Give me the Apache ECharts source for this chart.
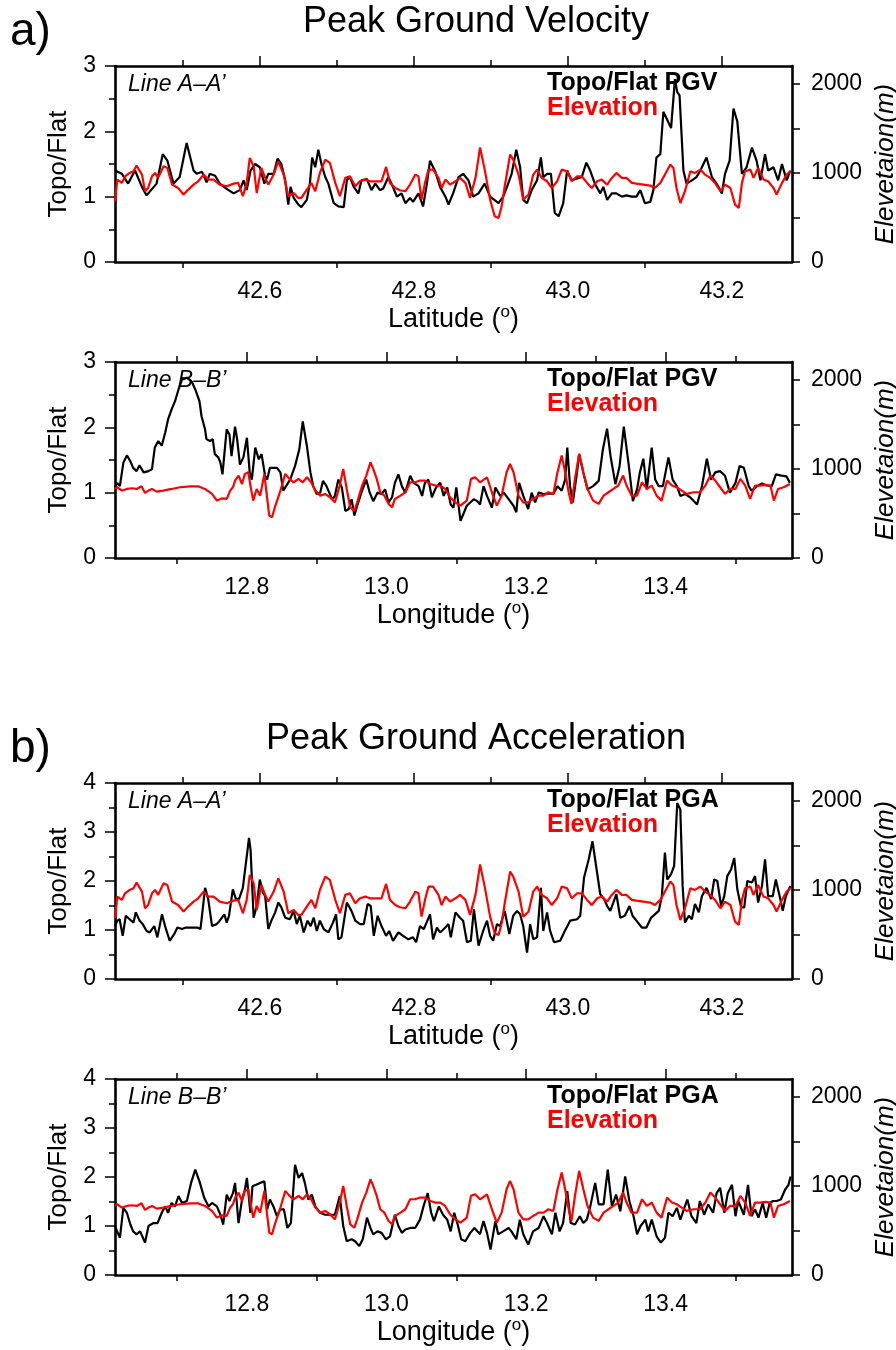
<!DOCTYPE html>
<html><head><meta charset="utf-8">
<script src="https://cdn.jsdelivr.net/npm/echarts@6/dist/echarts.min.js"></script>
<style>html,body{margin:0;padding:0;background:#fff}#c{width:896px;height:1350px}</style>
</head><body><div id="c"></div>
<script>
// ---------- tick values ----------
const latMajor = [42.6, 42.8, 43.0, 43.2];
const latMinor = [42.5, 42.7, 42.9, 43.1];
const lonMajor = [12.8, 13.0, 13.2, 13.4];
const lonMinor = [12.7, 12.9, 13.1, 13.3, 13.5];
const pgvRatioLabels = [0, 1, 2, 3];
const pgvRatioHalf = [0.5, 1.5, 2.5];
const pgaRatioLabels = [0, 1, 2, 3, 4];
const pgaRatioHalf = [0.5, 1.5, 2.5, 3.5];
const elevLabels = [0, 1000, 2000];
const elevTicks = [0, 500, 1000, 1500, 2000];

// ---------- data: [coordinate (deg), value] ----------
const pgvA_ratio = [[42.412,1.40],[42.421,1.35],[42.429,1.20],[42.438,1.40],[42.447,1.15],[42.453,1.02],[42.466,1.20],[42.474,1.65],[42.480,1.55],[42.488,1.20],[42.496,1.30],[42.505,1.82],[42.514,1.40],[42.518,1.35],[42.525,1.38],[42.531,1.22],[42.535,1.35],[42.542,1.32],[42.548,1.20],[42.557,1.12],[42.566,1.05],[42.574,1.10],[42.579,1.25],[42.583,1.10],[42.588,1.40],[42.594,1.50],[42.600,1.45],[42.606,1.20],[42.611,1.35],[42.618,1.35],[42.623,1.58],[42.628,1.50],[42.633,1.25],[42.637,0.88],[42.640,1.15],[42.644,0.98],[42.650,0.88],[42.654,0.84],[42.661,0.95],[42.665,1.20],[42.668,1.60],[42.672,1.45],[42.676,1.72],[42.680,1.50],[42.685,1.30],[42.689,1.20],[42.696,0.90],[42.702,0.85],[42.709,0.84],[42.713,1.25],[42.717,1.30],[42.722,1.15],[42.728,1.05],[42.732,1.25],[42.739,1.27],[42.745,1.10],[42.750,1.20],[42.756,1.10],[42.760,1.12],[42.767,1.30],[42.771,1.20],[42.778,1.00],[42.784,1.05],[42.789,0.90],[42.795,0.98],[42.799,0.92],[42.806,1.05],[42.812,0.85],[42.817,1.20],[42.821,1.55],[42.828,1.38],[42.834,1.15],[42.841,1.00],[42.845,0.88],[42.851,1.05],[42.858,1.30],[42.864,1.35],[42.871,1.25],[42.877,1.00],[42.884,1.05],[42.892,1.20],[42.899,1.00],[42.910,0.90],[42.916,1.00],[42.921,1.15],[42.927,1.35],[42.933,1.72],[42.938,1.45],[42.942,0.95],[42.947,0.90],[42.953,1.10],[42.960,1.25],[42.965,1.60],[42.968,1.30],[42.973,1.35],[42.978,1.35],[42.983,0.75],[42.988,0.70],[42.994,0.90],[42.999,1.40],[43.005,1.25],[43.012,1.28],[43.018,1.30],[43.024,1.52],[43.029,1.40],[43.035,1.20],[43.042,1.05],[43.046,1.15],[43.051,0.95],[43.057,1.05],[43.063,1.05],[43.070,1.00],[43.076,1.02],[43.083,1.00],[43.089,1.00],[43.094,1.10],[43.100,0.90],[43.107,0.92],[43.111,1.10],[43.115,1.60],[43.120,1.65],[43.124,2.30],[43.128,2.20],[43.134,2.05],[43.139,2.80],[43.142,2.60],[43.145,2.55],[43.150,1.40],[43.154,1.20],[43.161,1.25],[43.167,1.30],[43.172,1.40],[43.180,1.60],[43.187,1.30],[43.193,1.20],[43.200,1.05],[43.204,1.35],[43.210,1.55],[43.215,2.35],[43.220,2.15],[43.226,1.35],[43.232,1.45],[43.239,1.75],[43.245,1.55],[43.250,1.25],[43.256,1.65],[43.260,1.40],[43.267,1.45],[43.273,1.25],[43.278,1.50],[43.284,1.25],[43.289,1.40]];

const elevA = [[42.412,682],[42.415,925],[42.421,888],[42.425,962],[42.431,1000],[42.436,1019],[42.440,1082],[42.447,981],[42.451,794],[42.455,831],[42.460,962],[42.464,1000],[42.468,944],[42.475,1075],[42.480,1056],[42.486,869],[42.494,831],[42.501,757],[42.507,813],[42.514,869],[42.520,906],[42.527,981],[42.533,925],[42.540,925],[42.548,869],[42.557,850],[42.566,880],[42.572,888],[42.578,738],[42.583,888],[42.587,1168],[42.592,1075],[42.596,775],[42.602,1056],[42.607,944],[42.611,869],[42.618,981],[42.624,1131],[42.631,981],[42.637,738],[42.644,775],[42.650,719],[42.654,719],[42.661,813],[42.667,888],[42.672,794],[42.678,1000],[42.685,1150],[42.691,1112],[42.698,888],[42.704,738],[42.711,944],[42.717,962],[42.724,850],[42.730,906],[42.737,925],[42.743,906],[42.752,906],[42.758,906],[42.764,1067],[42.769,888],[42.776,831],[42.782,805],[42.789,794],[42.795,869],[42.802,981],[42.806,962],[42.810,700],[42.815,906],[42.819,1037],[42.825,1037],[42.832,944],[42.836,831],[42.841,925],[42.847,869],[42.854,906],[42.860,944],[42.867,888],[42.873,719],[42.880,944],[42.886,1285],[42.892,1037],[42.899,700],[42.905,513],[42.910,494],[42.914,625],[42.918,850],[42.925,1206],[42.929,1150],[42.936,981],[42.942,700],[42.949,757],[42.955,981],[42.960,1037],[42.966,944],[42.973,906],[42.979,831],[42.986,906],[42.992,1037],[42.999,1019],[43.005,906],[43.012,962],[43.018,962],[43.025,888],[43.031,831],[43.038,906],[43.044,925],[43.051,869],[43.057,944],[43.063,1000],[43.070,944],[43.076,944],[43.083,888],[43.089,880],[43.098,869],[43.107,858],[43.113,831],[43.120,888],[43.126,981],[43.133,1094],[43.137,1056],[43.141,831],[43.146,662],[43.152,794],[43.159,1019],[43.165,1000],[43.172,1037],[43.178,981],[43.185,944],[43.191,888],[43.198,794],[43.204,869],[43.211,831],[43.217,644],[43.222,607],[43.226,888],[43.230,1019],[43.237,1037],[43.241,944],[43.247,1056],[43.254,925],[43.260,906],[43.267,831],[43.271,757],[43.278,888],[43.284,981],[43.289,1019]];

const pgvB_ratio = [[12.611,1.08],[12.614,1.15],[12.618,1.10],[12.623,1.46],[12.628,1.57],[12.633,1.48],[12.637,1.38],[12.642,1.33],[12.646,1.42],[12.652,1.31],[12.659,1.33],[12.664,1.36],[12.668,1.69],[12.673,1.79],[12.678,1.72],[12.683,1.92],[12.687,2.12],[12.692,2.27],[12.697,2.40],[12.702,2.58],[12.707,2.73],[12.714,2.76],[12.721,2.70],[12.726,2.58],[12.732,2.40],[12.735,2.17],[12.740,1.97],[12.742,1.82],[12.747,1.79],[12.751,1.82],[12.754,1.59],[12.759,1.54],[12.762,1.46],[12.765,1.28],[12.771,1.97],[12.775,1.89],[12.778,1.56],[12.783,2.01],[12.786,1.82],[12.790,1.43],[12.795,1.54],[12.800,1.84],[12.804,1.31],[12.807,1.20],[12.812,1.69],[12.817,1.51],[12.821,1.59],[12.826,1.26],[12.829,1.20],[12.833,1.38],[12.843,1.38],[12.848,1.31],[12.852,1.03],[12.862,1.20],[12.869,1.41],[12.875,1.66],[12.880,2.09],[12.886,1.71],[12.891,1.31],[12.895,1.10],[12.900,0.98],[12.905,1.00],[12.909,1.18],[12.914,1.10],[12.922,0.90],[12.926,0.95],[12.931,1.20],[12.936,1.08],[12.941,0.72],[12.946,0.75],[12.950,0.90],[12.954,0.65],[12.958,0.80],[12.965,1.03],[12.971,1.20],[12.976,1.00],[12.981,0.87],[12.987,1.00],[12.993,0.98],[12.998,1.05],[13.003,0.85],[13.008,0.93],[13.012,1.15],[13.017,1.28],[13.022,1.10],[13.027,1.00],[13.034,1.26],[13.039,1.15],[13.046,1.10],[13.051,0.95],[13.055,1.15],[13.060,1.20],[13.065,0.93],[13.071,1.08],[13.077,1.15],[13.082,0.95],[13.087,1.08],[13.092,0.82],[13.096,0.77],[13.100,1.08],[13.106,0.57],[13.110,0.67],[13.115,0.80],[13.120,0.85],[13.125,0.90],[13.130,0.87],[13.134,0.82],[13.139,1.10],[13.144,0.95],[13.151,0.77],[13.156,1.08],[13.163,0.95],[13.168,1.00],[13.175,0.90],[13.182,0.80],[13.186,0.70],[13.190,1.15],[13.196,0.95],[13.203,0.75],[13.208,1.00],[13.213,0.85],[13.218,1.00],[13.225,0.98],[13.232,0.99],[13.239,0.98],[13.245,1.10],[13.251,1.03],[13.256,1.20],[13.259,1.69],[13.263,1.10],[13.267,0.85],[13.273,1.31],[13.276,1.59],[13.282,1.31],[13.288,1.05],[13.296,1.10],[13.304,1.18],[13.310,1.66],[13.316,1.98],[13.321,1.56],[13.328,1.13],[13.334,1.41],[13.340,2.01],[13.347,1.43],[13.353,0.87],[13.359,1.05],[13.363,1.31],[13.368,1.52],[13.373,1.05],[13.380,1.69],[13.385,1.20],[13.390,1.10],[13.396,1.10],[13.404,1.54],[13.410,1.20],[13.416,1.10],[13.421,0.95],[13.428,0.98],[13.435,0.93],[13.445,0.82],[13.452,1.10],[13.459,1.52],[13.465,1.20],[13.471,1.31],[13.478,1.33],[13.485,1.26],[13.492,1.00],[13.500,1.15],[13.506,1.41],[13.512,1.38],[13.519,1.10],[13.523,1.03],[13.531,1.10],[13.538,1.14],[13.545,1.11],[13.552,1.10],[13.558,1.28],[13.566,1.26],[13.573,1.25],[13.578,1.15]];

const elevB = [[12.611,775],[12.614,794],[12.621,757],[12.628,775],[12.635,783],[12.642,775],[12.649,805],[12.654,730],[12.659,757],[12.664,775],[12.671,745],[12.680,757],[12.692,775],[12.704,794],[12.719,805],[12.730,805],[12.740,775],[12.750,719],[12.757,644],[12.762,663],[12.766,670],[12.771,663],[12.776,757],[12.780,794],[12.783,869],[12.788,925],[12.793,831],[12.797,944],[12.802,962],[12.805,813],[12.809,644],[12.814,775],[12.819,700],[12.825,944],[12.828,738],[12.832,476],[12.836,457],[12.840,569],[12.848,757],[12.855,944],[12.861,888],[12.867,850],[12.874,888],[12.880,850],[12.886,906],[12.892,850],[12.898,757],[12.905,700],[12.912,719],[12.919,682],[12.926,625],[12.933,813],[12.938,1000],[12.943,775],[12.948,569],[12.954,532],[12.958,625],[12.965,813],[12.971,925],[12.977,1075],[12.981,1000],[12.986,888],[12.991,738],[12.997,700],[13.003,607],[13.008,569],[13.012,663],[13.020,700],[13.027,738],[13.034,850],[13.041,850],[13.048,869],[13.055,869],[13.063,831],[13.070,813],[13.077,813],[13.084,775],[13.091,682],[13.098,625],[13.106,588],[13.115,644],[13.121,888],[13.127,906],[13.134,850],[13.144,906],[13.151,738],[13.158,588],[13.165,700],[13.172,962],[13.177,1056],[13.182,962],[13.189,700],[13.196,625],[13.203,625],[13.210,663],[13.218,700],[13.225,700],[13.232,738],[13.239,719],[13.245,962],[13.251,1150],[13.256,962],[13.261,738],[13.265,607],[13.270,888],[13.276,1169],[13.282,962],[13.288,775],[13.296,644],[13.304,607],[13.311,700],[13.318,738],[13.325,775],[13.332,813],[13.339,925],[13.344,813],[13.351,700],[13.359,700],[13.366,850],[13.373,775],[13.380,813],[13.387,700],[13.394,644],[13.402,869],[13.409,813],[13.416,794],[13.423,757],[13.430,719],[13.440,738],[13.449,738],[13.457,813],[13.464,925],[13.471,869],[13.478,794],[13.485,719],[13.492,775],[13.500,775],[13.507,888],[13.514,813],[13.521,663],[13.528,813],[13.535,813],[13.543,820],[13.550,813],[13.555,644],[13.561,775],[13.569,794],[13.578,831]];

const pgaA_ratio = [[42.412,1.08],[42.415,1.19],[42.418,1.22],[42.422,0.88],[42.426,1.29],[42.431,1.22],[42.436,1.15],[42.439,1.36],[42.444,1.19],[42.448,1.12],[42.453,0.98],[42.457,0.95],[42.463,1.08],[42.467,0.85],[42.473,1.32],[42.477,1.08],[42.483,0.78],[42.489,0.92],[42.493,1.05],[42.499,1.02],[42.504,1.05],[42.512,1.05],[42.519,1.05],[42.523,1.02],[42.529,1.86],[42.533,1.63],[42.538,1.08],[42.544,1.12],[42.548,1.19],[42.554,1.32],[42.557,1.15],[42.560,1.29],[42.565,1.83],[42.569,1.63],[42.573,1.63],[42.578,1.86],[42.582,2.37],[42.586,2.88],[42.588,2.64],[42.592,1.25],[42.596,1.49],[42.600,2.03],[42.604,1.76],[42.607,1.69],[42.611,1.02],[42.615,1.19],[42.620,1.36],[42.624,1.56],[42.628,1.46],[42.633,1.25],[42.639,1.22],[42.644,1.39],[42.648,1.12],[42.652,1.29],[42.657,0.95],[42.662,1.19],[42.666,1.08],[42.670,1.25],[42.674,0.98],[42.678,1.19],[42.683,1.02],[42.689,0.95],[42.695,1.15],[42.699,1.32],[42.702,0.81],[42.706,0.85],[42.713,1.56],[42.719,1.39],[42.724,1.19],[42.730,1.12],[42.735,1.12],[42.740,1.53],[42.744,1.49],[42.748,0.88],[42.753,1.29],[42.758,1.08],[42.764,0.88],[42.768,0.98],[42.773,0.78],[42.780,0.95],[42.786,0.88],[42.793,0.81],[42.799,0.85],[42.803,0.75],[42.808,1.08],[42.813,1.02],[42.821,1.32],[42.825,0.81],[42.830,1.05],[42.834,0.95],[42.839,1.02],[42.845,1.12],[42.848,0.85],[42.854,1.36],[42.860,1.25],[42.864,1.19],[42.869,0.75],[42.874,0.78],[42.878,1.42],[42.884,0.68],[42.890,0.98],[42.895,1.19],[42.899,0.88],[42.903,0.78],[42.908,1.12],[42.912,1.08],[42.918,1.39],[42.924,0.92],[42.929,1.29],[42.934,1.39],[42.938,1.32],[42.942,1.08],[42.947,0.54],[42.951,1.12],[42.955,0.81],[42.960,0.85],[42.965,1.86],[42.968,0.98],[42.973,1.36],[42.977,0.98],[42.982,0.75],[42.990,0.78],[42.996,0.98],[43.003,1.19],[43.012,1.22],[43.016,1.29],[43.021,2.07],[43.027,2.44],[43.032,2.81],[43.037,2.27],[43.042,1.73],[43.047,1.63],[43.051,1.49],[43.055,1.39],[43.059,1.56],[43.063,1.73],[43.068,1.25],[43.074,1.29],[43.080,1.49],[43.084,1.29],[43.089,1.19],[43.096,1.05],[43.102,1.05],[43.108,1.25],[43.113,1.32],[43.118,1.39],[43.122,1.69],[43.126,2.58],[43.129,2.03],[43.134,2.14],[43.138,2.31],[43.142,3.59],[43.146,3.46],[43.149,1.90],[43.152,1.15],[43.157,1.29],[43.161,1.22],[43.165,1.53],[43.170,1.36],[43.174,1.69],[43.180,1.86],[43.186,1.63],[43.190,2.03],[43.194,2.00],[43.199,1.49],[43.203,1.69],[43.207,2.10],[43.212,2.24],[43.216,2.47],[43.220,1.83],[43.225,1.46],[43.229,1.46],[43.233,2.00],[43.239,1.97],[43.243,2.10],[43.247,1.56],[43.252,1.90],[43.256,2.44],[43.260,1.69],[43.266,1.69],[43.270,2.03],[43.275,1.69],[43.279,1.39],[43.283,1.69],[43.289,1.90]];

const pgaB_ratio = [[12.611,1.00],[12.614,0.89],[12.618,0.76],[12.623,1.37],[12.628,1.27],[12.633,1.03],[12.637,0.89],[12.642,0.83],[12.647,0.89],[12.651,0.76],[12.654,0.66],[12.659,1.00],[12.666,1.06],[12.672,1.06],[12.678,1.27],[12.683,1.40],[12.687,1.27],[12.692,1.47],[12.697,1.40],[12.702,1.61],[12.707,1.47],[12.714,1.51],[12.720,1.88],[12.726,2.15],[12.732,1.91],[12.739,1.57],[12.745,1.40],[12.750,1.47],[12.757,1.40],[12.762,1.23],[12.766,1.03],[12.771,1.64],[12.775,1.51],[12.780,1.67],[12.783,1.88],[12.788,1.06],[12.793,1.54],[12.797,1.74],[12.800,1.98],[12.805,1.27],[12.808,1.81],[12.813,1.84],[12.819,1.88],[12.825,1.91],[12.829,1.34],[12.833,1.54],[12.838,1.40],[12.843,1.20],[12.848,1.34],[12.853,1.34],[12.858,0.96],[12.863,1.06],[12.869,2.25],[12.874,1.98],[12.879,2.08],[12.883,1.88],[12.888,1.54],[12.893,1.64],[12.898,1.40],[12.905,1.27],[12.912,1.23],[12.919,1.23],[12.926,1.23],[12.933,1.61],[12.938,1.00],[12.943,0.69],[12.950,0.73],[12.955,0.69],[12.961,0.59],[12.966,0.73],[12.972,1.17],[12.977,0.96],[12.981,0.83],[12.987,0.89],[12.993,0.86],[12.999,0.73],[13.005,0.79],[13.012,1.23],[13.017,1.00],[13.022,0.86],[13.027,0.93],[13.034,0.96],[13.041,0.96],[13.048,1.13],[13.053,1.40],[13.059,1.67],[13.064,1.27],[13.068,1.10],[13.075,1.40],[13.081,1.23],[13.087,1.13],[13.092,0.89],[13.097,1.27],[13.102,1.03],[13.107,0.73],[13.113,0.69],[13.120,0.86],[13.126,0.96],[13.134,0.83],[13.139,1.10],[13.144,0.86],[13.149,0.52],[13.156,1.10],[13.160,0.83],[13.167,0.89],[13.175,0.96],[13.179,0.89],[13.186,0.73],[13.191,1.13],[13.196,0.83],[13.203,0.62],[13.210,0.89],[13.218,0.96],[13.225,1.20],[13.230,1.06],[13.237,0.83],[13.242,1.27],[13.248,0.89],[13.253,1.06],[13.259,1.71],[13.264,1.06],[13.270,1.03],[13.277,1.20],[13.282,1.06],[13.287,1.13],[13.292,1.40],[13.299,1.88],[13.304,1.44],[13.311,1.44],[13.317,2.15],[13.323,1.40],[13.329,1.64],[13.335,1.30],[13.342,2.01],[13.348,1.51],[13.354,1.20],[13.359,0.83],[13.364,1.00],[13.371,1.13],[13.375,0.89],[13.380,1.13],[13.387,0.79],[13.393,0.66],[13.399,0.76],[13.404,1.27],[13.410,1.20],[13.416,1.37],[13.421,1.13],[13.426,1.34],[13.431,1.54],[13.437,1.20],[13.444,1.06],[13.449,1.51],[13.455,1.23],[13.461,1.44],[13.468,1.27],[13.473,1.67],[13.478,1.78],[13.484,1.27],[13.489,1.67],[13.495,1.84],[13.500,1.20],[13.504,1.51],[13.512,1.23],[13.518,1.84],[13.523,1.20],[13.528,1.34],[13.533,1.17],[13.539,1.47],[13.544,1.17],[13.549,1.47],[13.554,1.51],[13.559,1.51],[13.565,1.54],[13.571,1.74],[13.576,1.84],[13.579,2.01]];

// ---------- texts ----------
const sectionLabels = ['a)', 'b)'];
const sectionTitles = ['Peak Ground Velocity', 'Peak Ground Acceleration'];
const lineLabels = ['Line A–A’', 'Line B–B’'];
const ratioLegends = ['Topo/Flat PGV', 'Topo/Flat PGA'];
const elevLegend = 'Elevation';
const leftAxisName = 'Topo/Flat';
const rightAxisName = 'Elevetaion(m)';

// ---------- layout ----------
const FONT = '"Liberation Sans", Arial, Helvetica, sans-serif';
const GRID_LEFT = 115, GRID_W = 677, GRID_H = 196;
const panels = [
  {top: 66,   xMin: 42.412, xMax: 43.291, major: latMajor, minor: latMinor, xName: 'Latitude',  yMax: 3, yLab: pgvRatioLabels, yHalf: pgvRatioHalf, ratio: pgvA_ratio, elev: elevA, line: lineLabels[0], legend: ratioLegends[0]},
  {top: 362,  xMin: 12.611, xMax: 13.581, major: lonMajor, minor: lonMinor, xName: 'Longitude', yMax: 3, yLab: pgvRatioLabels, yHalf: pgvRatioHalf, ratio: pgvB_ratio, elev: elevB, line: lineLabels[1], legend: ratioLegends[0]},
  {top: 783,  xMin: 42.412, xMax: 43.291, major: latMajor, minor: latMinor, xName: 'Latitude',  yMax: 4, yLab: pgaRatioLabels, yHalf: pgaRatioHalf, ratio: pgaA_ratio, elev: elevA, line: lineLabels[0], legend: ratioLegends[1]},
  {top: 1079, xMin: 12.611, xMax: 13.581, major: lonMajor, minor: lonMinor, xName: 'Longitude', yMax: 4, yLab: pgaRatioLabels, yHalf: pgaRatioHalf, ratio: pgaB_ratio, elev: elevB, line: lineLabels[1], legend: ratioLegends[1]}
];

const frame = {color: '#000', width: 2.6};
const tickStyle = {color: '#000', width: 1.5};
const labelStyle = {fontSize: 23, color: '#000', fontFamily: FONT};

const grids = [], xAxes = [], yAxes = [], series = [], graphics = [];
panels.forEach((p, i) => {
  grids.push({left: GRID_LEFT, top: p.top, width: GRID_W, height: GRID_H, containLabel: false, outerBoundsMode: 'none'});
  const xb = {type: 'value', gridIndex: i, min: p.xMin, max: p.xMax, splitLine: {show: false}, minorTick: {show: false}};
  xAxes.push(Object.assign({}, xb, {
    position: 'bottom',
    axisLine: {show: true, onZero: false, lineStyle: frame},
    axisTick: {show: true, customValues: p.minor, length: 6, lineStyle: tickStyle},
    axisLabel: Object.assign({show: true, customValues: p.major, margin: 18, formatter: v => v.toFixed(1)}, labelStyle),
    name: '{t|' + p.xName + ' (}{s|o}{t|)}',
    nameLocation: 'middle', nameGap: 41,
    nameTextStyle: {rich: {
      t: {fontSize: 27, fontFamily: FONT, color: '#000', lineHeight: 31},
      s: {fontSize: 17, fontFamily: FONT, color: '#000', verticalAlign: 'top', lineHeight: 18}
    }}
  }));
  xAxes.push(Object.assign({}, xb, {
    position: 'top',
    axisLine: {show: true, onZero: false, lineStyle: frame},
    axisTick: {show: true, customValues: p.major, length: 10, lineStyle: tickStyle},
    axisLabel: {show: false}
  }));
  xAxes.push(Object.assign({}, xb, {
    position: 'top',
    axisLine: {show: false, onZero: false},
    axisTick: {show: true, customValues: p.minor, length: 6, lineStyle: tickStyle},
    axisLabel: {show: false}
  }));

  const yb = {type: 'value', gridIndex: i, splitLine: {show: false}};
  yAxes.push(Object.assign({}, yb, {
    position: 'left', min: 0, max: p.yMax,
    axisLine: {show: true, onZero: false, lineStyle: frame},
    axisTick: {show: true, customValues: p.yLab, length: 10, lineStyle: tickStyle},
    axisLabel: Object.assign({show: true, customValues: p.yLab, margin: 19, formatter: v => String(v)}, labelStyle),
    name: leftAxisName, nameLocation: 'middle', nameGap: 43,
    nameTextStyle: {fontSize: 26, fontFamily: FONT, color: '#000'}
  }));
  yAxes.push(Object.assign({}, yb, {
    position: 'left', min: 0, max: p.yMax,
    axisLine: {show: false, onZero: false},
    axisTick: {show: true, customValues: p.yHalf, length: 6, lineStyle: tickStyle},
    axisLabel: {show: false}
  }));
  yAxes.push(Object.assign({}, yb, {
    position: 'right', min: 0, max: 2200,
    axisLine: {show: true, onZero: false, lineStyle: frame},
    axisTick: {show: true, customValues: elevTicks, length: 8, lineStyle: tickStyle},
    axisLabel: Object.assign({show: true, customValues: elevLabels, margin: 19, formatter: v => String(v)}, labelStyle),
    name: rightAxisName, nameLocation: 'middle', nameGap: 72,
    nameTextStyle: {fontSize: 26, fontFamily: FONT, color: '#000', fontStyle: 'italic'}
  }));

  series.push({type: 'line', xAxisIndex: 3 * i, yAxisIndex: 3 * i, data: p.ratio, symbol: 'none',
    lineStyle: {color: '#000', width: 2.2}, z: 3, silent: true});
  series.push({type: 'line', xAxisIndex: 3 * i, yAxisIndex: 3 * i + 2, data: p.elev, symbol: 'none',
    lineStyle: {color: '#ff0000', width: 2.2}, z: 4, silent: true});

  graphics.push({type: 'text', x: 128, y: p.top + 19, z: 10, style: {text: p.line, fill: '#000',
    font: 'italic 23px ' + FONT, align: 'left', verticalAlign: 'middle'}});
  graphics.push({type: 'text', x: 547, y: p.top + 17, z: 10, style: {text: p.legend, fill: '#000',
    font: 'bold 25px ' + FONT, align: 'left', verticalAlign: 'middle'}});
  graphics.push({type: 'text', x: 547, y: p.top + 42, z: 10, style: {text: elevLegend, fill: '#ff0000',
    font: 'bold 25px ' + FONT, align: 'left', verticalAlign: 'middle'}});
});

[0, 1].forEach(k => {
  const top = panels[k * 2].top;
  graphics.push({type: 'text', x: 10, y: top - 34, style: {text: sectionLabels[k], fill: '#000',
    font: '46px ' + FONT, align: 'left', verticalAlign: 'middle'}});
  graphics.push({type: 'text', x: 476, y: top - 44, style: {text: sectionTitles[k], fill: '#000',
    font: '36px ' + FONT, align: 'center', verticalAlign: 'middle'}});
});

const chart = echarts.init(document.getElementById('c'), null, {renderer: 'canvas'});
chart.setOption({
  backgroundColor: '#fff',
  animation: false,
  grid: grids, xAxis: xAxes, yAxis: yAxes, series: series, graphic: graphics
});
</script></body></html>
